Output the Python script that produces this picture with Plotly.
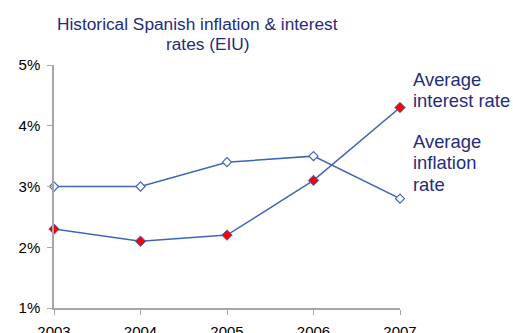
import plotly.graph_objects as go

years = [2003, 2004, 2005, 2006, 2007]
inflation = [3.0, 3.0, 3.4, 3.5, 2.8]
interest = [2.3, 2.1, 2.2, 3.1, 4.3]
y_ticks = [1, 2, 3, 4, 5]
y_tick_labels = ["1%", "2%", "3%", "4%", "5%"]
title_lines = ["Historical Spanish inflation &amp; interest", "rates (EIU)"]
interest_label = ["Average", "interest rate"]
inflation_label = ["Average", "inflation", "rate"]

line_col = "#3F66B8"
navy = "#1F2C7C"

fig = go.Figure()
fig.add_trace(go.Scatter(
    x=years, y=inflation, mode="lines+markers", name="Average inflation rate",
    line=dict(color=line_col, width=1.5),
    marker=dict(symbol="diamond", size=7, color="white", line=dict(color=line_col, width=1.2)),
    cliponaxis=False,
))
fig.add_trace(go.Scatter(
    x=years, y=interest, mode="lines+markers", name="Average interest rate",
    line=dict(color=line_col, width=1.5),
    marker=dict(symbol="diamond", size=8, color="red", line=dict(color=line_col, width=1)),
    cliponaxis=False,
))

annotations = []
for txt, x, y in zip(title_lines, [0.415, 0.445], [1.169, 1.088]):
    annotations.append(dict(text=txt, xref="paper", yref="paper", x=x, y=y,
                            xanchor="center", yanchor="middle", showarrow=False,
                            font=dict(size=17.3, color=navy)))
for txt, y in zip(interest_label + inflation_label, [0.940, 0.854, 0.687, 0.597, 0.510]):
    annotations.append(dict(text=txt, xref="paper", yref="paper", x=1.031, y=y,
                            xanchor="left", yanchor="middle", showarrow=False,
                            font=dict(size=18.4, color=navy)))

fig.update_layout(
    width=513, height=333,
    margin=dict(l=54, r=113, t=65, b=25, autoexpand=False),
    paper_bgcolor="white", plot_bgcolor="white",
    showlegend=False,
    font=dict(family="Liberation Sans, Arial, sans-serif", color="black", size=15),
    xaxis=dict(
        range=[2003, 2007], tickvals=years, ticktext=[str(y) for y in years],
        showgrid=False, zeroline=False, showline=True, linecolor="#A6A6A6", linewidth=1.5,
        ticks="outside", tickcolor="#A6A6A6", ticklen=5, ticklabelstandoff=4,
        tickfont=dict(size=15), automargin=False,
    ),
    yaxis=dict(
        range=[1, 5], tickvals=y_ticks, ticktext=y_tick_labels,
        showgrid=False, zeroline=False, showline=True, linecolor="#A6A6A6", linewidth=1.5,
        ticks="outside", tickcolor="#A6A6A6", ticklen=5, ticklabelstandoff=4,
        tickfont=dict(size=15), automargin=False,
    ),
    annotations=annotations,
)

fig.write_html("out.html",
               config={"displayModeBar": False},
               post_script="document.body.style.margin='0';document.body.style.overflow='hidden';")
